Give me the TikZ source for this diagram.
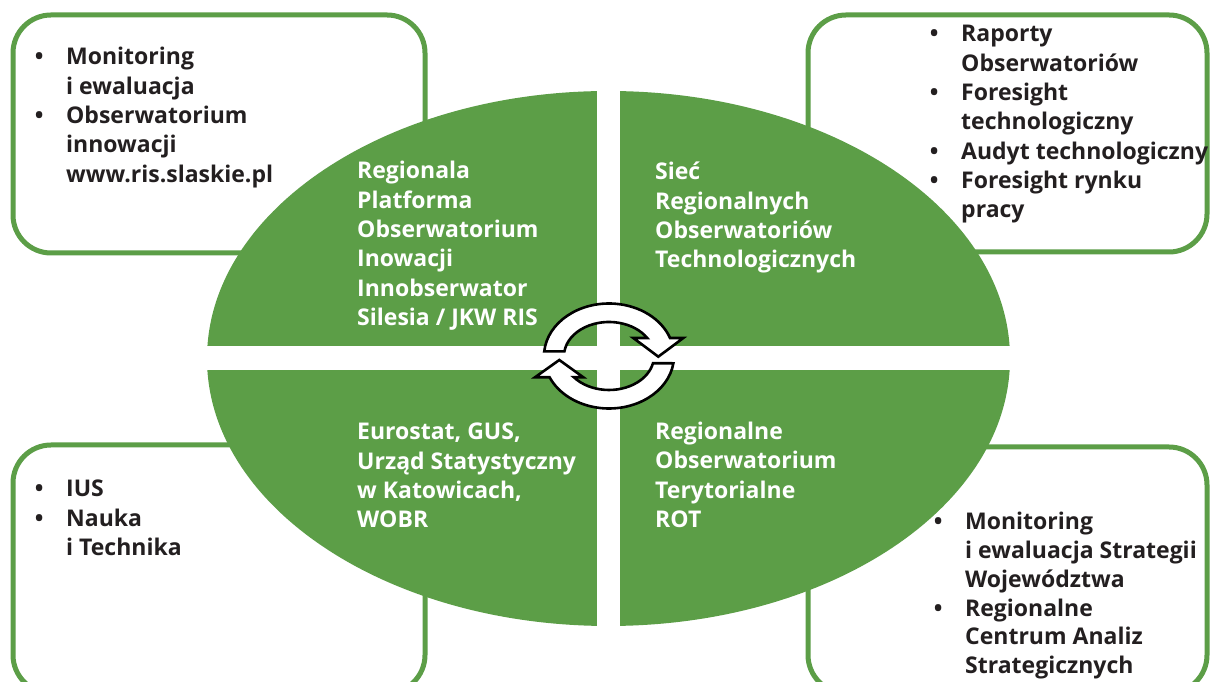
\documentclass[tikz,border=0pt]{standalone}
\usepackage{fontspec}
\setmainfont{Open Sans}
\usetikzlibrary{calc}
\definecolor{grn}{RGB}{92,158,71}
\definecolor{ink}{RGB}{35,31,32}
\newcommand\LL[1]{\hbox{#1}}
\newcommand\bul{\llap{\makebox[54pt][c]{\textbullet}}}
\begin{document}
\begin{tikzpicture}[x=1pt,y=1pt,
  txt/.style={inner sep=0pt, anchor=base west, font=\bfseries\fontsize{23}{29.3}\selectfont},
  wtxt/.style={txt, text=white},
  btxt/.style={txt, text=ink},
  box/.style={draw=grn, line width=5pt, rounded corners=38pt, fill=white},
  ring/.style={draw=black, line width=2.6pt, fill=white, line join=miter}]
\useasboundingbox (0,0) rectangle (1210,682);
% boxes
\draw[box] (13,429) rectangle (425,667);
\draw[box] (808,430) rectangle (1207,667);
\draw[box] (13,-11) rectangle (425,237);
\draw[box] (808,-11) rectangle (1207,235);
% ellipse
\coordinate (ec) at (608.5,323.5);
\fill[grn] (ec) ellipse [x radius=401.5, y radius=267.5];
\fill[white] (200,312) rectangle (1020,336);
\fill[white] (597,40) rectangle (620,610);
% ring arrows
\coordinate (rc) at (609,326);
\draw[ring] ($(rc)+(175:65 and 52.5)$) arc[start angle=175, end angle=20, x radius=65, y radius=52.5]
  -- (683.3,344) -- (658.3,325.3) -- (633.3,344) -- ($(rc)+(32:45 and 34)$)
  arc[start angle=32, end angle=172.3, x radius=45, y radius=34] -- cycle;
\draw[ring] ($(rc)+(-8:65 and 52.5)$) arc[start angle=-8, end angle=-156.1, x radius=65, y radius=52.5]
  -- (535,304.7) -- (559.3,322) -- (583.3,304.7) -- ($(rc)+(-141.2:45 and 34)$)
  arc[start angle=-141.2, end angle=-12.4, x radius=45, y radius=34] -- cycle;
% ellipse texts
\node[wtxt] (q1) at (357,503) {\vtop{\LL{Regionala}\LL{Platforma}\LL{Obserwatorium}\LL{Inowacji}\LL{Innobserwator}\LL{Silesia / JKW RIS}}};
\node[wtxt] (q2) at (655,502) {\vtop{\LL{Sieć}\LL{Regionalnych}\LL{Obserwatoriów}\LL{Technologicznych}}};
\node[wtxt] (q3) at (357,242) {\vtop{\LL{Eurostat, GUS,}\LL{Urząd Statystyczny}\LL{w Katowicach,}\LL{WOBR}}};
\node[wtxt] (q4) at (655,242.5) {\vtop{\LL{Regionalne}\LL{Obserwatorium}\LL{Terytorialne}\LL{ROT}}};
% box texts
\node[btxt] (b1) at (66,617) {\vtop{\LL{\bul Monitoring}\LL{i ewaluacja}\LL{\bul Obserwatorium}\LL{innowacji}\LL{www.ris.slaskie.pl}}};
\node[btxt] (b2) at (961,640) {\vtop{\LL{\bul Raporty}\LL{Obserwatoriów}\LL{\bul Foresight}\LL{technologiczny}\LL{\bul Audyt technologiczny}\LL{\bul Foresight rynku}\LL{pracy}}};
\node[btxt] (b3) at (66,185) {\vtop{\LL{\bul IUS}\LL{\bul Nauka}\LL{i Technika}}};
\node[btxt, font=\bfseries\fontsize{23}{28.7}\selectfont] (b4) at (965,152) {\vtop{\LL{\bul Monitoring}\LL{i ewaluacja Strategii}\LL{Województwa}\LL{\bul Regionalne}\LL{Centrum Analiz}\LL{Strategicznych}}};
\end{tikzpicture}
\end{document}
